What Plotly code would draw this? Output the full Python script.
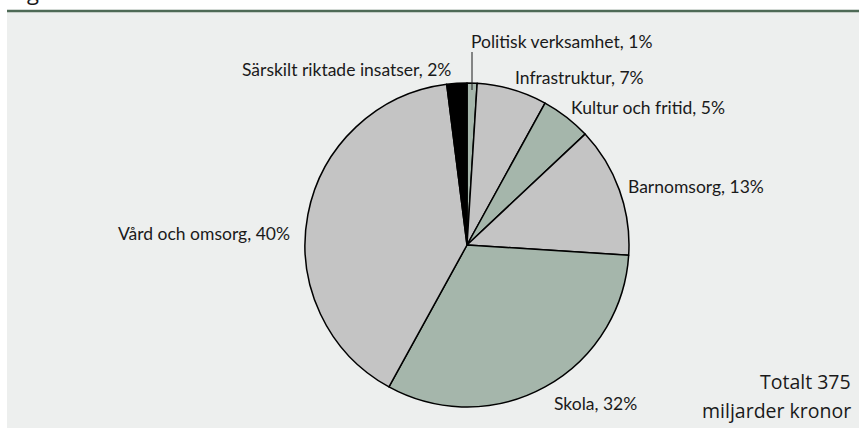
import plotly.graph_objects as go

W, H = 859, 428

categories = ["Politisk verksamhet", "Infrastruktur", "Kultur och fritid",
              "Barnomsorg", "Skola", "Vård och omsorg", "Särskilt riktade insatser"]
shares = [1, 7, 5, 13, 32, 40, 2]
slice_colors = ["#a5b6ab", "#c4c4c4", "#a5b6ab", "#c4c4c4", "#a5b6ab", "#c4c4c4", "#000000"]
total_text = ["Totalt 375", "miljarder kronor"]

def px(x):
    return x / W

def py(y):
    return 1 - y / H

fig = go.Figure()
fig.add_trace(go.Pie(
    labels=categories, values=shares, sort=False, direction="clockwise", rotation=0,
    marker=dict(colors=slice_colors, line=dict(color="#000000", width=1.5)),
    textinfo="none", hoverinfo="skip", showlegend=False,
    domain=dict(x=[px(305), px(629)], y=[py(407), py(83)]),
))

label_font = dict(family="Lato", size=17.5, color="#1a1a1a")
label_pos = [
    (469, 41, "left"),
    (513, 78, "left"),
    (569, 107, "left"),
    (626, 186, "left"),
    (552, 403, "left"),
    (292, 233, "right"),
    (453, 69, "right"),
]
for cat, v, (x, y, anc) in zip(categories, shares, label_pos):
    fig.add_annotation(text=f"{cat}, {v}%", x=px(x), y=py(y), xref="paper", yref="paper",
                       xanchor=anc, yanchor="middle", showarrow=False, font=label_font)

total_font = dict(family="Open Sans", size=19.5, color="#1a1a1a")
fig.add_annotation(text=total_text[0], x=px(853), y=py(381), xref="paper", yref="paper",
                   xanchor="right", yanchor="middle", showarrow=False, font=total_font)
fig.add_annotation(text=total_text[1], x=px(853), y=py(410), xref="paper", yref="paper",
                   xanchor="right", yanchor="middle", showarrow=False, font=total_font)

# clipped title remnant
fig.add_annotation(text="g", x=px(25), y=py(8), xref="paper", yref="paper",
                   xanchor="left", yanchor="bottom", showarrow=False,
                   font=dict(family="Open Sans", size=22, color="#1a1a1a"))

shapes = [
    dict(type="rect", xref="paper", yref="paper", x0=px(7), x1=px(859), y0=0, y1=py(12),
         fillcolor="#edefee", line=dict(width=0), layer="below"),
    dict(type="line", xref="paper", yref="paper", x0=px(7), x1=px(859), y0=py(11), y1=py(11),
         line=dict(color="#4e6a56", width=2.5)),
    dict(type="line", xref="paper", yref="paper", x0=px(472), x1=px(472), y0=py(52), y1=py(90),
         line=dict(color="#1a1a1a", width=1)),
]
fig.update_layout(width=W, height=H, margin=dict(l=0, r=0, t=0, b=0),
                  paper_bgcolor="#ffffff", plot_bgcolor="#ffffff", shapes=shapes)

fig.write_html("out.html", config={"displayModeBar": False},
               post_script="document.body.style.margin='0';document.body.style.overflow='hidden';")
